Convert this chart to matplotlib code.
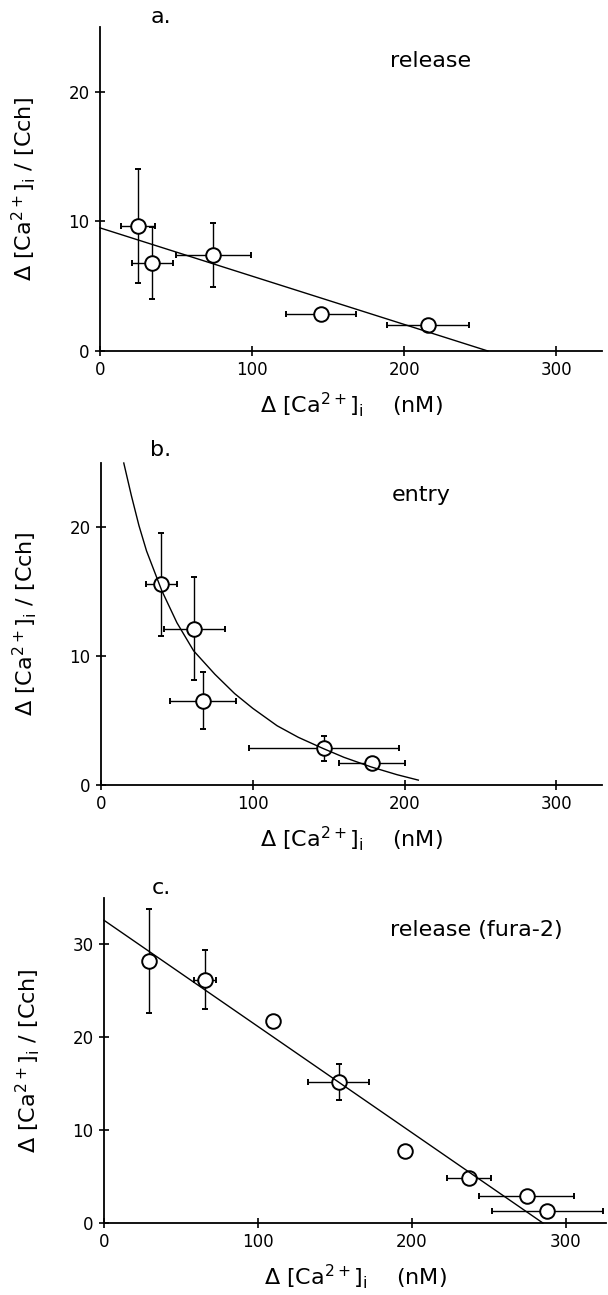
import numpy as np
import matplotlib.pyplot as plt

plt.rcParams["font.family"] = ["DejaVu Sans"]
plt.rcParams["mathtext.default"] = "regular"

nan = np.nan

# ── panel a: release ─────────────────────────────────────────────────────────
a_x = [25, 34.5, 74.5, 145.5, 215.5]
a_y = [9.65, 6.8, 7.4, 2.85, 2.0]
a_xerr = [11, 13.5, 24.5, 23, 27]
a_yerr = [4.4, 2.75, 2.5, nan, nan]
a_fit_x = [0, 255]
a_fit_y = [9.5, 0]

# ── panel b: entry ───────────────────────────────────────────────────────────
b_x = [39.8, 61.5, 67, 147, 178.5]
b_y = [15.6, 12.15, 6.55, 2.85, 1.7]
b_xerr = [10, 20, 21.8, 49.5, 21.5]
b_yerr = [4, 4, 2.2, 0.95, nan]
b_fit_x = [15, 20, 25, 30, 40, 50, 61, 75, 88, 100, 116, 130, 146, 160, 178, 195, 209]
b_fit_y = [25.0, 22.47, 20.14, 18.17, 15.1, 12.6, 10.42, 8.6, 7.1, 5.95, 4.6, 3.7,
           2.85, 2.15, 1.4, 0.8, 0.38]

# ── panel c: release (fura-2) ────────────────────────────────────────────────
c_x = [29, 65.5, 109.5, 152.3, 195.6, 237, 274.4, 288]
c_y = [28.2, 26.2, 21.8, 15.2, 7.8, 4.8, 2.87, 1.26]
c_xerr = [nan, 7, nan, 19.6, nan, 14, 31, 36]
c_yerr = [5.6, 3.2, nan, 1.95, nan, nan, nan, nan]
c_fit_x = [0, 285]
c_fit_y = [32.6, 0]

XTICKS = [0, 100, 200, 300]
YLABEL = r"$\Delta$ [Ca$^{2+}$]$_{\rm i}$ / [Cch]"
XLABEL = r"$\Delta$ [Ca$^{2+}$]$_{\rm i}$    (nM)"

W, H = 608, 1295
fig = plt.figure(figsize=(W / 100, H / 100), dpi=100)


def px_axes(left, right, top, bottom):
    return fig.add_axes([left / W, 1 - bottom / H, (right - left) / W, (bottom - top) / H])


def panel(ax, x, y, xerr, yerr, fx, fy, xmax, ymax, yticks, note, note_xy):
    ax.errorbar(x, y, xerr=xerr, yerr=yerr, fmt="o", ms=10.5, mfc="white", mec="black",
                mew=1.4, ecolor="black", elinewidth=1.0, capsize=2.2, capthick=1.0,
                zorder=3, clip_on=False)
    ax.plot(fx, fy, color="black", lw=1.0, zorder=4, clip_on=False)
    ax.set_xlim(0, xmax)
    ax.set_ylim(0, ymax)
    ax.set_xticks(XTICKS)
    ax.set_yticks(yticks)
    for s in ["top", "right"]:
        ax.spines[s].set_visible(False)
    for s in ["left", "bottom"]:
        ax.spines[s].set_linewidth(1.3)
    ax.tick_params(direction="inout", length=7, width=1.2, labelsize=12, pad=4)
    ax.set_xlabel(XLABEL, fontsize=16, labelpad=8)
    ax.set_ylabel(YLABEL, fontsize=16, labelpad=22)
    ax.text(note_xy[0], note_xy[1], note, fontsize=16, ha="center", va="center")


ax_a = px_axes(100, 602, 27, 351)
panel(ax_a, a_x, a_y, a_xerr, a_yerr, a_fit_x, a_fit_y, 330, 25, [0, 10, 20],
      "release", (217, 22.4))

ax_b = px_axes(101, 602, 463, 785)
panel(ax_b, b_x, b_y, b_xerr, b_yerr, b_fit_x, b_fit_y, 330, 25, [0, 10, 20],
      "entry", (211, 22.5))

ax_c = px_axes(104, 606, 898, 1223)
panel(ax_c, c_x, c_y, c_xerr, c_yerr, c_fit_x, c_fit_y, 326, 35, [0, 10, 20, 30],
      "release (fura-2)", (242, 31.6))

for lab, ypx in [("a.", 17), ("b.", 450), ("c.", 888)]:
    fig.text(161 / W, 1 - ypx / H, lab, fontsize=16, ha="center", va="center")

fig.savefig("out.png", dpi=100, facecolor="white")
